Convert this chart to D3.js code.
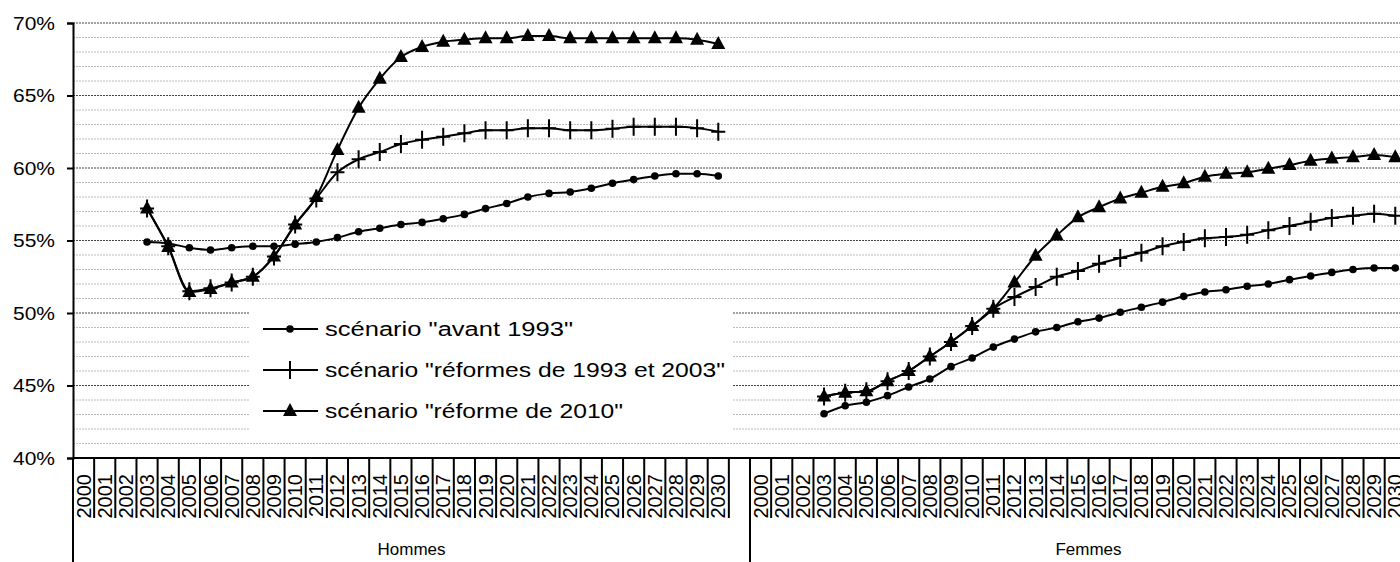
<!DOCTYPE html>
<html>
<head>
<meta charset="utf-8">
<script src="https://cdn.jsdelivr.net/npm/d3@7"></script>
<style>
  body { margin: 0; background: #fff; }
  text { font-family: "Liberation Sans", Arial, sans-serif; fill: #000; }
</style>
</head>
<body>
<svg id="chart" width="1400" height="562"></svg>
<script>
// categories
const groups = ["Hommes", "Femmes"];
const years = d3.range(2000, 2031);
const yTicks = [40, 45, 50, 55, 60, 65, 70];

// series, 2000-2030 (no value before 2003)
const hommesAvant1993 = [null, null, null,
  54.9, 54.8, 54.5, 54.35, 54.5, 54.6, 54.6, 54.75, 54.9, 55.2, 55.6, 55.85, 56.1, 56.25,
  56.5, 56.8, 57.2, 57.55, 58.0, 58.25, 58.35, 58.6, 58.95, 59.2, 59.45, 59.6, 59.6, 59.45];
const hommesReformes = [null, null, null,
  57.2, 54.6, 51.5, 51.7, 52.1, 52.5, 53.9, 56.1, 57.9, 59.7, 60.6, 61.1, 61.65, 61.95,
  62.15, 62.4, 62.6, 62.6, 62.75, 62.75, 62.6, 62.6, 62.7, 62.85, 62.85, 62.85, 62.75, 62.5];
const hommesReforme2010 = [null, null, null,
  57.2, 54.55, 51.45, 51.65, 52.1, 52.5, 53.9, 56.1, 58.0, 61.25, 64.15, 66.15, 67.65, 68.35,
  68.7, 68.85, 68.95, 68.95, 69.1, 69.1, 68.95, 68.95, 68.95, 68.95, 68.95, 68.95, 68.85, 68.55];
const femmesAvant1993 = [null, null, null,
  43.05, 43.6, 43.85, 44.3, 44.9, 45.45, 46.3, 46.9, 47.65, 48.2, 48.7, 49.0, 49.4, 49.65,
  50.05, 50.4, 50.75, 51.15, 51.45, 51.6, 51.85, 52.0, 52.3, 52.55, 52.8, 53.0, 53.1, 53.1];
const femmesReformes = [null, null, null,
  44.25, 44.5, 44.6, 45.3, 46.0, 47.0, 48.0, 49.1, 50.3, 51.1, 51.8, 52.5, 52.9, 53.4,
  53.8, 54.15, 54.6, 54.9, 55.15, 55.25, 55.4, 55.7, 56.0, 56.3, 56.55, 56.7, 56.85, 56.7];
const femmesReforme2010 = [null, null, null,
  44.25, 44.5, 44.6, 45.3, 46.0, 47.0, 48.0, 49.1, 50.3, 52.1, 53.95, 55.35, 56.6, 57.3,
  57.9, 58.3, 58.7, 58.95, 59.4, 59.6, 59.7, 59.95, 60.2, 60.5, 60.65, 60.75, 60.9, 60.75];

const seriesNames = ['scénario "avant 1993"', 'scénario "réformes de 1993 et 2003"', 'scénario "réforme de 2010"'];
const seriesMarkers = ["circle", "plus", "triangle"];
const seriesData = [
  { Hommes: hommesAvant1993, Femmes: femmesAvant1993 },
  { Hommes: hommesReformes, Femmes: femmesReformes },
  { Hommes: hommesReforme2010, Femmes: femmesReforme2010 }
];

const svg = d3.select("#chart");
const plotLeft = 73, plotTop = 23, plotBottom = 458;

// each group has 31 years plus one empty slot
const keys = [];
groups.forEach(g => {
  years.forEach(y => keys.push(g + "-" + y));
  keys.push(g + "-blank");
});
const bandW = (750 - plotLeft) / 32;
const x = d3.scaleBand().domain(keys).range([plotLeft, plotLeft + keys.length * bandW]);
const y = d3.scaleLinear().domain([40, 70]).range([plotBottom, plotTop]);
const xEnd = plotLeft + keys.length * bandW;

function fit(sel, w) {
  return sel.attr("textLength", w).attr("lengthAdjust", "spacingAndGlyphs");
}

// gridlines
const grid = svg.append("g");
d3.range(41, 71).forEach(v => {
  const major = v % 5 === 0;
  grid.append("line")
    .attr("x1", plotLeft).attr("x2", xEnd)
    .attr("y1", y(v)).attr("y2", y(v))
    .attr("stroke", major ? "#444" : "#bcbcbc")
    .attr("stroke-width", 1)
    .attr("stroke-dasharray", "2,1");
});

// y axis
const yAxis = svg.append("g")
  .attr("transform", `translate(${plotLeft},0)`)
  .call(d3.axisLeft(y).tickValues(yTicks).tickSize(6).tickPadding(12).tickFormat(d => d + "%"));
yAxis.select(".domain").attr("stroke", "#000").attr("stroke-width", 2);
yAxis.selectAll(".tick line").attr("stroke", "#000").attr("stroke-width", 2);
yAxis.selectAll(".tick text").attr("font-size", 19).attr("font-family", null)
  .call(s => fit(s, 42));

// x axis: baseline, category ticks and labels
svg.append("line")
  .attr("x1", plotLeft).attr("x2", xEnd).attr("y1", plotBottom).attr("y2", plotBottom)
  .attr("stroke", "#000").attr("stroke-width", 2);

keys.forEach((k, i) => {
  const bx = x(k);
  const isGroupStart = i % 32 === 0;
  svg.append("line")
    .attr("x1", bx).attr("x2", bx)
    .attr("y1", plotBottom).attr("y2", isGroupStart ? 562 : 518)
    .attr("stroke", "#000").attr("stroke-width", 2);
  if (!k.endsWith("blank")) {
    const cx = bx + bandW / 2;
    svg.append("text")
      .attr("x", cx).attr("y", 474)
      .attr("transform", `rotate(-90, ${cx}, 474)`)
      .attr("text-anchor", "end")
      .attr("dominant-baseline", "central")
      .attr("font-size", 20)
      .text(k.split("-")[1]);
  }
});

groups.forEach(g => {
  const gx = x(g + "-2000") + 16 * bandW;
  svg.append("text")
    .attr("x", gx).attr("y", 555)
    .attr("text-anchor", "middle")
    .attr("font-size", 17)
    .text(g);
});

// series lines + markers
const line = d3.line()
  .defined(d => d.v != null)
  .x(d => x(d.k) + bandW / 2)
  .y(d => y(d.v))
  .curve(d3.curveMonotoneX);

function drawMarker(sel, type, cx, cy) {
  if (type === "circle") {
    sel.append("circle").attr("cx", cx).attr("cy", cy).attr("r", 3.8).attr("fill", "#000");
  } else if (type === "plus") {
    sel.append("path")
      .attr("d", `M${cx - 7},${cy}H${cx + 7}M${cx},${cy - 9}V${cy + 9}`)
      .attr("stroke", "#000").attr("stroke-width", 2).attr("fill", "none");
  } else {
    sel.append("path")
      .attr("d", `M${cx},${cy - 8}L${cx + 7},${cy + 5}L${cx - 7},${cy + 5}Z`)
      .attr("fill", "#000");
  }
}

const plot = svg.append("g");
seriesData.forEach((sd, si) => {
  groups.forEach(g => {
    const pts = years.map((yr, i) => ({ k: g + "-" + yr, v: sd[g][i] }));
    plot.append("path")
      .datum(pts)
      .attr("d", line)
      .attr("fill", "none")
      .attr("stroke", "#000")
      .attr("stroke-width", 2);
    pts.filter(d => d.v != null).forEach(d => {
      drawMarker(plot, seriesMarkers[si], x(d.k) + bandW / 2, y(d.v));
    });
  });
});

// legend
const legend = svg.append("g");
legend.append("rect")
  .attr("x", 250).attr("y", 305).attr("width", 482).attr("height", 131)
  .attr("fill", "#fff");
const legendW = [248, 400, 298];
seriesNames.forEach((name, i) => {
  const ly = 329 + i * 41;
  legend.append("line")
    .attr("x1", 263).attr("x2", 318).attr("y1", ly).attr("y2", ly)
    .attr("stroke", "#000").attr("stroke-width", 2);
  drawMarker(legend, seriesMarkers[i], 290, ly);
  legend.append("text")
    .attr("x", 325).attr("y", ly)
    .attr("dominant-baseline", "central")
    .attr("font-size", 20)
    .text(name)
    .call(s => fit(s, legendW[i]));
});
</script>
</body>
</html>
